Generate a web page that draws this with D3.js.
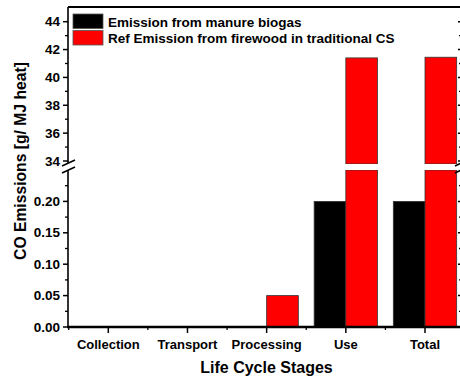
<!DOCTYPE html>
<html><head><meta charset="utf-8">
<script src="https://cdn.jsdelivr.net/npm/d3@7/dist/d3.min.js"></script>
<style>
html,body{margin:0;padding:0;background:#fff;}
text{font-family:"Liberation Sans",Arial,sans-serif;font-weight:bold;fill:#000;}
</style></head>
<body><div id="chart"></div>
<script>
const categories = ["Collection","Transport","Processing","Use","Total"];
const biogas = [0, 0, 0, 0.2, 0.2];
const firewood = [0, 0, 0.05, 41.4, 41.45];
const seriesNames = ["Emission from manure biogas","Ref Emission from firewood in traditional CS"];
const seriesColors = ["#000000","#ff0000"];
const lowTicks = [0, 0.05, 0.10, 0.15, 0.20];
const lowMinor = [0.025, 0.075, 0.125, 0.175, 0.225];
const highTicks = [34, 36, 38, 40, 42, 44];
const highMinor = [35, 37, 39, 41, 43];

const W = 460, H = 380;
const L = 68, R = 461, T = 7, B = 327;
const lowTop = 170, highBot = 164;

const svg = d3.select("#chart").append("svg").attr("width", W).attr("height", H);
svg.append("rect").attr("width", W).attr("height", H).attr("fill", "#fff");

const x = d3.scaleLinear().domain([1, 5]).range([108.3, 425]);
const yLow = d3.scaleLinear().domain([0, 0.25]).range([B, lowTop]);
const yHigh = d3.scaleLinear().domain([34, 44]).range([161, 21.7]);
const lowMax = yLow.domain()[1];
const highMin = yHigh.invert(highBot);
const bw = 0.4;

// bars
const series = [biogas, firewood];
series.forEach((vals, s) => {
  vals.forEach((v, i) => {
    if (v <= 0) return;
    const x0 = s === 0 ? x(i + 1 - bw) : x(i + 1);
    const x1 = s === 0 ? x(i + 1) : x(i + 1 + bw);
    const lowV = Math.min(v, lowMax);
    svg.append("rect")
      .attr("x", x0).attr("y", yLow(lowV))
      .attr("width", x1 - x0).attr("height", yLow(0) - yLow(lowV))
      .attr("fill", seriesColors[s]).attr("stroke", "#333").attr("stroke-width", 0.8);
    if (v > highMin) {
      svg.append("rect")
        .attr("x", x0).attr("y", yHigh(v))
        .attr("width", x1 - x0).attr("height", yHigh(highMin) - yHigh(v))
        .attr("fill", seriesColors[s]).attr("stroke", "#333").attr("stroke-width", 0.8);
    }
  });
});
// white break band across bars
svg.append("rect").attr("x", L + 1).attr("y", highBot).attr("width", R - L).attr("height", lowTop - highBot).attr("fill", "#fff");

// frame lines
svg.append("line").attr("x1", L).attr("x2", R).attr("y1", T).attr("y2", T).attr("stroke", "#000").attr("stroke-width", 2);
svg.append("line").attr("x1", L - 1).attr("x2", R).attr("y1", B).attr("y2", B).attr("stroke", "#000").attr("stroke-width", 2.5);
[L, R].forEach(ax => {
  svg.append("line").attr("x1", ax).attr("x2", ax).attr("y1", T).attr("y2", 163).attr("stroke", "#000").attr("stroke-width", 1.6);
  svg.append("line").attr("x1", ax).attr("x2", ax).attr("y1", 170).attr("y2", B).attr("stroke", "#000").attr("stroke-width", 1.6);
  // break slashes
  [0, 7].forEach(dy => {
    svg.append("line").attr("x1", ax - 6).attr("y1", 166 + dy).attr("x2", ax + 7).attr("y2", 160 + dy)
      .attr("stroke", "#000").attr("stroke-width", 1.5);
  });
});

// left y ticks
function yTicks(scale, major, minor) {
  major.forEach(t => {
    const yy = scale(t);
    svg.append("line").attr("x1", L - 5).attr("x2", L).attr("y1", yy).attr("y2", yy).attr("stroke", "#000").attr("stroke-width", 1.5);
    svg.append("line").attr("x1", R - 3).attr("x2", R).attr("y1", yy).attr("y2", yy).attr("stroke", "#000").attr("stroke-width", 1.5);
  });
  minor.forEach(t => {
    const yy = scale(t);
    svg.append("line").attr("x1", L - 3).attr("x2", L).attr("y1", yy).attr("y2", yy).attr("stroke", "#000").attr("stroke-width", 1.3);
    svg.append("line").attr("x1", R - 2).attr("x2", R).attr("y1", yy).attr("y2", yy).attr("stroke", "#000").attr("stroke-width", 1.3);
  });
}
yTicks(yLow, lowTicks, lowMinor);
yTicks(yHigh, highTicks, highMinor);
svg.selectAll(".ylowlab").data(lowTicks).enter().append("text")
  .attr("x", 60).attr("y", d => yLow(d) + 4.5).attr("text-anchor", "end").attr("font-size", 13.5)
  .text(d => d3.format(".2f")(d));
svg.selectAll(".yhighlab").data(highTicks).enter().append("text")
  .attr("x", 60).attr("y", d => yHigh(d) + 4.5).attr("text-anchor", "end").attr("font-size", 13.5)
  .text(d => d);

// x ticks
categories.forEach((c, i) => {
  const xx = x(i + 1);
  svg.append("line").attr("x1", xx).attr("x2", xx).attr("y1", B).attr("y2", B + 6).attr("stroke", "#000").attr("stroke-width", 1.5);
  svg.append("text").attr("x", xx).attr("y", 349).attr("text-anchor", "middle").attr("font-size", 13).text(c);
});
[0.5, 1.5, 2.5, 3.5, 4.5].forEach(m => {
  const xx = x(m);
  svg.append("line").attr("x1", xx).attr("x2", xx).attr("y1", B).attr("y2", B + 3).attr("stroke", "#000").attr("stroke-width", 1.3);
});

// axis titles
svg.append("text").attr("x", 266.5).attr("y", 373).attr("text-anchor", "middle").attr("font-size", 16).text("Life Cycle Stages");
svg.append("text").attr("transform", "translate(26,161) rotate(-90)").attr("text-anchor", "middle").attr("font-size", 15.7).text("CO Emissions [g/ MJ heat]");

// legend
seriesNames.forEach((n, i) => {
  svg.append("rect").attr("x", 73).attr("y", 14 + i * 16.5).attr("width", 30).attr("height", 14.5)
    .attr("fill", seriesColors[i]).attr("stroke", "#555").attr("stroke-width", 0.8);
  svg.append("text").attr("x", 108).attr("y", 27 + i * 16).attr("font-size", 13.5).text(n);
});
</script></body></html>
